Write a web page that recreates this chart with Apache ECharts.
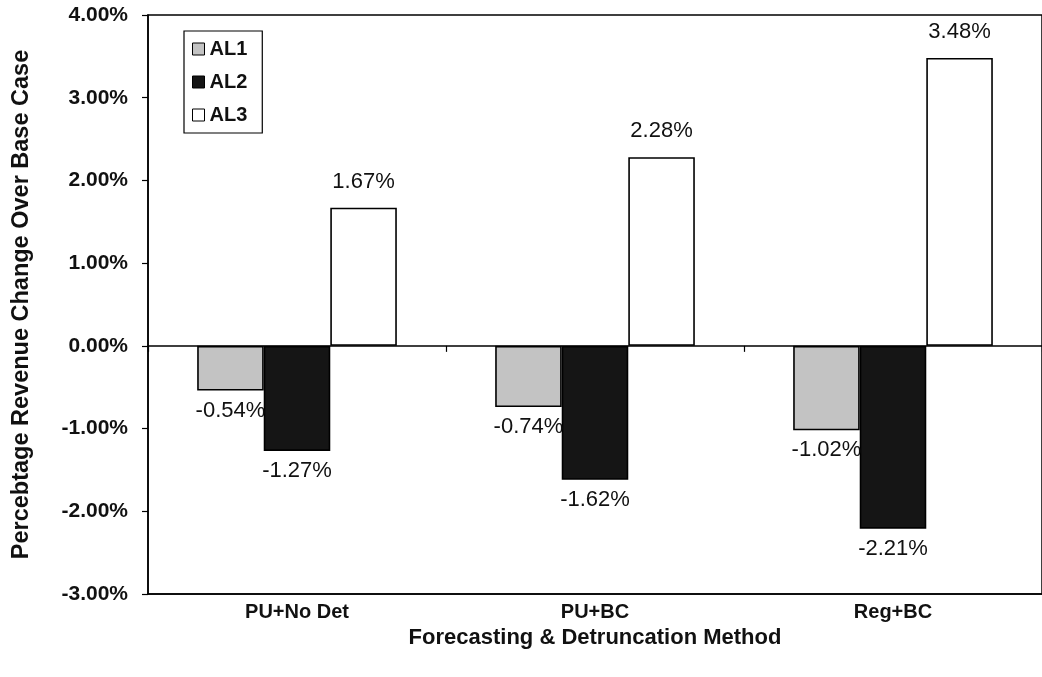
<!DOCTYPE html>
<html>
<head>
<meta charset="utf-8">
<script src="https://cdn.jsdelivr.net/npm/echarts@6/dist/echarts.min.js"></script>
<style>
  html, body { margin: 0; padding: 0; background: #fff; }
  #chart { width: 1042px; height: 677px; }
</style>
</head>
<body>
<div id="chart"></div>
<script>
// Revenue change (%) of each allocation scheme over the base case
const categories = ['PU+No Det', 'PU+BC', 'Reg+BC'];
const seriesNames = ['AL1', 'AL2', 'AL3'];
const al1 = [-0.54, -0.74, -1.02];
const al2 = [-1.27, -1.62, -2.21];
const al3 = [1.67, 2.28, 3.48];
const yTicks = { min: -3, max: 4, step: 1 };

const FONT = '"Liberation Sans", Arial, Helvetica, sans-serif';
const seriesValues = [al1, al2, al3];
const fills = ['#c3c3c3', '#151515', '#ffffff'];

function pct(v) { return v.toFixed(2) + '%'; }

const series = seriesNames.map((name, i) => ({
  name: name,
  type: 'bar',
  xAxisIndex: 0,
  barGap: '0%',
  barCategoryGap: '33%',
  itemStyle: { color: fills[i], borderColor: '#000', borderWidth: 1.6 },
  label: {
    show: true,
    color: '#111',
    fontFamily: FONT,
    fontSize: 22,
    formatter: p => pct(p.value)
  },
  data: seriesValues[i].map(v => ({
    value: v,
    label: { position: v < 0 ? 'bottom' : 'top', distance: v < 0 ? 9 : 15 }
  }))
}));

const chart = echarts.init(document.getElementById('chart'), null, { renderer: 'canvas' });
chart.setOption({
  animation: false,
  backgroundColor: '#fff',
  grid: {
    left: 148, top: 15, bottom: 83, right: -8,
    show: true, borderColor: '#000', borderWidth: 1.5, backgroundColor: 'transparent'
  },
  legend: {
    orient: 'vertical',
    left: 184, top: 31,
    data: seriesNames,
    itemWidth: 12, itemHeight: 12, itemGap: 13,
    padding: [8, 15, 8, 8],
    borderColor: '#000', borderWidth: 1.2,
    backgroundColor: '#fff',
    icon: 'rect',
    itemStyle: { borderColor: '#000', borderWidth: 1 },
    textStyle: { fontFamily: FONT, fontSize: 20, fontWeight: 'bold', color: '#111' }
  },
  xAxis: [
    {
      type: 'category',
      data: categories,
      position: 'bottom',
      axisLine: { show: true, onZero: false, lineStyle: { color: '#000', width: 1.5 } },
      axisTick: { show: false },
      axisLabel: { margin: 8, fontFamily: FONT, fontSize: 20, fontWeight: 'bold', color: '#111' },
      name: 'Forecasting & Detruncation Method',
      nameLocation: 'middle',
      nameGap: 31,
      nameTextStyle: { fontFamily: FONT, fontSize: 22, fontWeight: 'bold', color: '#111' }
    },
    {
      // zero line with category separators
      type: 'category',
      data: categories,
      position: 'bottom',
      axisLine: { show: true, onZero: true, lineStyle: { color: '#000', width: 1.5 } },
      axisTick: { show: true, length: 6, lineStyle: { color: '#000', width: 1.2 } },
      axisLabel: { show: false }
    }
  ],
  yAxis: {
    type: 'value',
    min: yTicks.min,
    max: yTicks.max,
    interval: yTicks.step,
    axisLine: { show: true, lineStyle: { color: '#000', width: 1.5 } },
    axisTick: { show: true, length: 6, lineStyle: { color: '#000', width: 1.2 } },
    splitLine: { show: false },
    axisLabel: {
      margin: 20,
      formatter: v => pct(v),
      fontFamily: FONT, fontSize: 21, fontWeight: 'bold', color: '#111'
    },
    name: 'Percebtage Revenue Change Over Base Case',
    nameLocation: 'middle',
    nameGap: 114,
    nameTextStyle: { fontFamily: FONT, fontSize: 23.5, fontWeight: 'bold', color: '#111' }
  },
  series: series
});
</script>
</body>
</html>
